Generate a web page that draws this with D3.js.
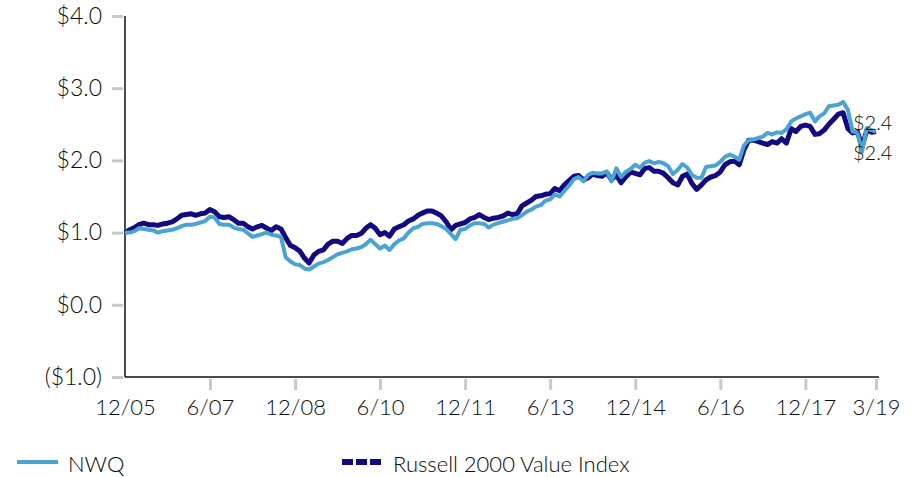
<!DOCTYPE html>
<html>
<head>
<meta charset="utf-8">
<script src="https://cdn.jsdelivr.net/npm/d3@7"></script>
<style>
  html, body { margin: 0; padding: 0; background: #fff; }
  svg { display: block; font-family: Lato, "DejaVu Sans", sans-serif; font-weight: 300; }
</style>
</head>
<body>
<svg id="chart" width="917" height="477"></svg>
<script>
// Growth of $1, monthly, 12/05 through 3/19
const startMonth = new Date(2005, 11, 1);
const endMonth = new Date(2019, 2, 1);

const nwq = [
  1.00,1.00,1.02,1.06,1.05,1.04,1.03,1.00,1.02,1.03,
  1.04,1.06,1.09,1.11,1.11,1.12,1.14,1.16,1.22,1.21,
  1.12,1.11,1.11,1.07,1.05,1.04,0.99,0.94,0.96,0.98,
  1.00,0.97,0.96,
  0.94,0.66,0.60,0.56,0.55,0.50,0.49,0.53,0.57,0.59,
  0.62,0.66,0.70,0.72,0.74,0.77,0.78,0.80,0.84,0.90,
  0.84,0.78,0.82,0.76,0.84,0.89,0.92,1.00,1.06,1.08,
  1.12,1.13,
  1.13,1.12,1.09,1.05,0.98,0.91,1.04,1.05,1.10,1.13,
  1.13,1.12,1.07,1.11,1.13,1.15,1.17,1.19,1.20,1.24,
  1.29,1.32,1.36,1.38,1.44,1.46,1.53,1.50,1.58,1.65,
  1.74,1.77,
  1.71,1.80,1.83,1.82,1.82,1.85,1.71,1.89,1.77,1.84,
  1.88,1.94,1.90,1.97,1.99,1.96,1.98,1.96,1.92,1.81,
  1.87,1.95,1.90,1.80,1.76,1.76,1.91,1.92,1.93,1.98,
  2.05,2.08,
  2.05,2.01,2.21,2.28,2.29,2.31,2.33,2.38,2.36,2.39,
  2.38,2.43,2.54,2.58,2.61,2.64,2.66,2.54,2.61,2.65,
  2.75,2.76,2.77,2.81,2.70,2.40,2.39,2.12,2.45,2.42,
  2.40
];

const russell = [
  1.00,1.04,1.07,1.11,1.13,1.11,1.11,1.10,1.12,1.13,
  1.15,1.19,1.24,1.25,1.26,1.24,1.26,1.27,1.32,1.29,
  1.22,1.21,1.22,1.18,1.13,1.13,1.08,1.05,1.08,1.10,
  1.06,1.03,1.08,
  1.05,0.93,0.82,0.79,0.74,0.64,0.58,0.69,0.74,0.76,
  0.84,0.88,0.88,0.85,0.92,0.96,0.96,0.99,1.06,1.11,
  1.06,0.97,1.00,0.95,1.05,1.08,1.11,1.16,1.19,1.24,
  1.27,1.30,
  1.30,1.27,1.23,1.15,1.04,1.10,1.12,1.14,1.19,1.21,
  1.25,1.21,1.18,1.20,1.21,1.23,1.27,1.25,1.26,1.37,
  1.41,1.45,1.50,1.51,1.53,1.54,1.61,1.58,1.66,1.72,
  1.78,1.79,
  1.73,1.76,1.81,1.79,1.78,1.83,1.73,1.80,1.69,1.77,
  1.84,1.82,1.80,1.89,1.90,1.85,1.85,1.82,1.76,1.69,
  1.66,1.78,1.81,1.68,1.60,1.66,1.73,1.77,1.79,1.84,
  1.94,1.98,
  1.99,1.94,2.15,2.28,2.28,2.26,2.24,2.22,2.26,2.24,
  2.30,2.24,2.44,2.40,2.47,2.49,2.47,2.36,2.37,2.42,
  2.50,2.57,2.64,2.66,2.44,2.38,2.40,2.19,2.42,2.39,
  2.40
];

const seriesNames = ["NWQ", "Russell 2000 Value Index"];
const seriesColors = ["#4aa3d0", "#140a80"];

const xTickDates = [
  new Date(2005, 11, 1), new Date(2007, 5, 1), new Date(2008, 11, 1),
  new Date(2010, 5, 1), new Date(2011, 11, 1), new Date(2013, 5, 1),
  new Date(2014, 11, 1), new Date(2016, 5, 1), new Date(2017, 11, 1),
  new Date(2019, 2, 1)
];
const xTickLabels = ["12/05", "6/07", "12/08", "6/10", "12/11", "6/13", "12/14", "6/16", "12/17", "3/19"];

const yTickValues = [-1, 0, 1, 2, 3, 4];
const yTickLabels = ["($1.0)", "$0.0", "$1.0", "$2.0", "$3.0", "$4.0"];

const months = d3.timeMonth.range(startMonth, d3.timeMonth.offset(endMonth, 1));

const svg = d3.select("#chart");
const plotLeft = 125, plotRight = 876, plotTop = 16, plotBottom = 377;

const x = d3.scaleTime().domain([startMonth, endMonth]).range([plotLeft, plotRight]);
const y = d3.scaleLinear().domain([-1, 4]).range([plotBottom, plotTop]);

const textColor = "#0a0a0a";
const tickGrey = "#c5c9ce";
const fontStack = 'Lato, "DejaVu Sans", sans-serif';

// Y axis
const yAxis = svg.append("g")
  .attr("transform", `translate(${plotLeft},0)`)
  .call(d3.axisLeft(y)
    .tickValues(yTickValues)
    .tickFormat((d, i) => yTickLabels[i])
    .tickSizeOuter(0))
  .attr("font-family", fontStack);
yAxis.select(".domain").remove();
yAxis.selectAll(".tick line")
  .attr("x1", -13).attr("x2", -2)
  .attr("stroke", tickGrey).attr("stroke-width", 3);
yAxis.selectAll(".tick text")
  .attr("x", -23)
  .attr("fill", textColor)
  .style("font-size", "23px");

// X axis
const xAxis = svg.append("g")
  .attr("transform", `translate(0,${plotBottom})`)
  .call(d3.axisBottom(x)
    .tickValues(xTickDates)
    .tickFormat((d, i) => xTickLabels[i])
    .tickSizeOuter(0))
  .attr("font-family", fontStack);
xAxis.select(".domain").remove();
xAxis.selectAll(".tick line")
  .attr("y1", 2).attr("y2", 13)
  .attr("stroke", tickGrey).attr("stroke-width", 3)
  .attr("display", (d, i) => i === 0 ? "none" : null);
xAxis.selectAll(".tick text")
  .attr("y", 22)
  .attr("fill", textColor)
  .style("font-size", "22px");

// Axis lines
svg.append("line")
  .attr("x1", plotLeft).attr("x2", plotLeft)
  .attr("y1", plotTop).attr("y2", plotBottom)
  .attr("stroke", "#111").attr("stroke-width", 1.5);
svg.append("line")
  .attr("x1", plotLeft).attr("x2", plotRight + 3)
  .attr("y1", plotBottom).attr("y2", plotBottom)
  .attr("stroke", "#111").attr("stroke-width", 1.5);

// Series lines
const line = d3.line()
  .x((d, i) => x(months[i]))
  .y(d => y(d));

svg.append("path")
  .datum(russell)
  .attr("d", line)
  .attr("fill", "none")
  .attr("stroke", seriesColors[1])
  .attr("stroke-width", 5)
  .attr("stroke-linejoin", "round");

svg.append("path")
  .datum(nwq)
  .attr("d", line)
  .attr("fill", "none")
  .attr("stroke", seriesColors[0])
  .attr("stroke-width", 4)
  .attr("stroke-linejoin", "round");

// End-value labels
const lastIdx = months.length - 1;
const fmtEnd = v => "$" + d3.format(".1f")(v);
svg.append("text")
  .attr("x", x(months[lastIdx]) - 23)
  .attr("y", y(nwq[lastIdx]) - 10)
  .attr("dominant-baseline", "central")
  .attr("fill", textColor)
  .style("font-size", "20px")
  .text(fmtEnd(nwq[lastIdx]));
svg.append("text")
  .attr("x", x(months[lastIdx]) - 23)
  .attr("y", y(russell[lastIdx]) + 20)
  .attr("dominant-baseline", "central")
  .attr("fill", textColor)
  .style("font-size", "20px")
  .text(fmtEnd(russell[lastIdx]));

// Legend
const legend = svg.append("g");
legend.append("line")
  .attr("x1", 17).attr("x2", 58).attr("y1", 462).attr("y2", 462)
  .attr("stroke", seriesColors[0]).attr("stroke-width", 4);
legend.append("text")
  .attr("x", 68).attr("y", 463)
  .attr("dominant-baseline", "central")
  .attr("fill", textColor)
  .style("font-size", "22px")
  .text(seriesNames[0]);
legend.append("line")
  .attr("x1", 342).attr("x2", 381).attr("y1", 462).attr("y2", 462)
  .attr("stroke", seriesColors[1]).attr("stroke-width", 6)
  .attr("stroke-dasharray", "11,3");
legend.append("text")
  .attr("x", 393).attr("y", 463)
  .attr("dominant-baseline", "central")
  .attr("fill", textColor)
  .style("font-size", "22px")
  .text(seriesNames[1]);
</script>
</body>
</html>
